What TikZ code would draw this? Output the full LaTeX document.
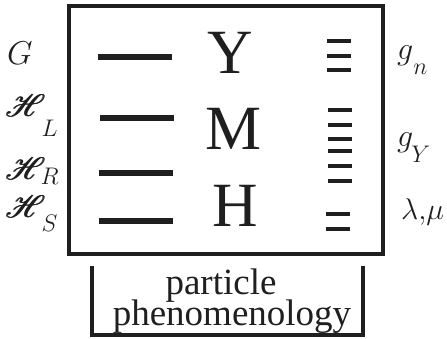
\RequirePackage{fix-cm}
\documentclass[tikz,border=0pt]{standalone}
\usepackage{fontspec}
\setmainfont{Liberation Serif}
\usepackage{amsmath}
\usepackage{mathrsfs}
\DeclareFontFamily{U}{rsfs}{\skewchar\font127 }
\DeclareFontShape{U}{rsfs}{m}{n}{<-> rsfs10}{}
\usetikzlibrary{positioning,calc}
% base, then a lowered index: {base}{index}{drop}{kern}
\newcommand{\lsub}[4]{#1\kern#4\raisebox{-#3}{\fontsize{24}{24}\selectfont$#2$}}
% heavier script H (glyph set three times, a little apart)
\newcommand{\scH}{{\fontsize{31}{31}\selectfont
  \rlap{$\mathscr{H}$}\kern0.6pt\rlap{$\mathscr{H}$}\kern0.6pt$\mathscr{H}$}}

\begin{document}
\begin{tikzpicture}[
  x=1pt, y=-1pt,
  % -- frame, bars and letters --
  frm/.style={line width=4.5pt, black!88},
  lb/.style={line width=5.5pt, black!88},
  sb/.style={line width=4pt, black!88},
  big/.style={font=\fontsize{63}{63}\selectfont, inner sep=0pt, text=black!88},
  lbl/.style={font=\fontsize{32}{32}\selectfont, inner sep=0pt, text=black!88,
              anchor=base west},
  pp/.style={font=\fontsize{37}{30}\selectfont, inner sep=0pt, text=black!88,
             anchor=base},
]
\useasboundingbox (0,0) rectangle (447,339);

% -- main frame --
\draw[frm] (69,6) rectangle (383,254);

% -- centre letters --
\node[big] (Y) at (230,52.5) {Y};
\node[big] (M) at (234,129) {M};
\node[big] (H) at (235,206) {H};

% -- long bars on the left --
\foreach \yy/\xa in {57/98, 118/100, 173/99, 221/99}
  \draw[lb] (\xa,\yy) -- ++(74,0);

% -- short bars on the right --
\foreach \yy in {41,56,70}
  \draw[sb] (327,\yy) -- ++(24,0);
\foreach \yy in {110,125,139,151,166,181}
  \draw[sb] (328,\yy) -- ++(24,0);
\foreach \yy in {214,229}
  \draw[sb] (326,\yy) -- ++(24,0);

% -- labels left --
\node[lbl, font=\fontsize{33}{33}\selectfont] (lG) at (7,65) {$G$};
\node[lbl] (lHL) at (5,117) {\lsub{\scH}{L}{20pt}{-4pt}};
\node[lbl] (lHR) at (5,180) {\lsub{\scH}{R}{5pt}{-5pt}};
\node[lbl] (lHS) at (5,218) {\lsub{\scH}{S}{14pt}{-4pt}};

% -- labels right --
\node[lbl] (lgn) at (397,60)  {\lsub{$g$}{n}{15pt}{0pt}};
\node[lbl] (lgY) at (397,147) {\lsub{$g$}{Y}{16pt}{-2pt}};
\node[lbl, font=\fontsize{30}{30}\selectfont] (llm) at (401,220)
  {$\lambda,\!\mu$};

% -- bracket below --
\node[pp] (pa) at (221,294) {particle};
\node[pp] (ph) at (232,325) {phenomenology};
\draw[frm] (92,266) -- (92,335) -- (363,335) -- (363,266);
\end{tikzpicture}
\end{document}
